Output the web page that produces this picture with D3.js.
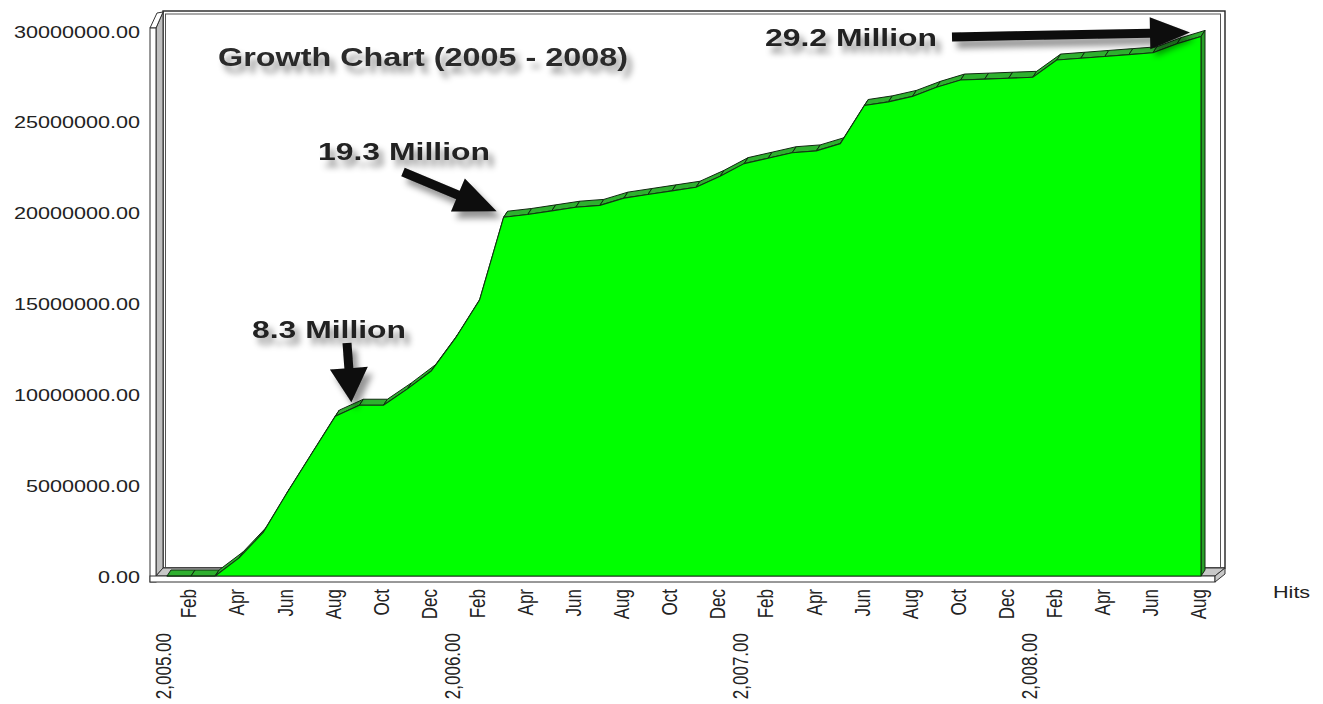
<!DOCTYPE html>
<html><head><meta charset="utf-8">
<script src="https://cdn.jsdelivr.net/npm/d3@7"></script>
<style>html,body{margin:0;padding:0;background:#fff;} svg{display:block;}</style>
</head><body>
<svg id="chart" width="1323" height="704"></svg>
<script>
// ---------------- DATA ----------------
const months = [
  "2005-01","2005-02","2005-03","2005-04","2005-05","2005-06","2005-07","2005-08","2005-09","2005-10","2005-11","2005-12",
  "2006-01","2006-02","2006-03","2006-04","2006-05","2006-06","2006-07","2006-08","2006-09","2006-10","2006-11","2006-12",
  "2007-01","2007-02","2007-03","2007-04","2007-05","2007-06","2007-07","2007-08","2007-09","2007-10","2007-11","2007-12",
  "2008-01","2008-02","2008-03","2008-04","2008-05","2008-06","2008-07","2008-08"
];
const hits = [
  0, 0, 0, 1000000, 2400000, 4600000, 6700000, 8800000, 9400000, 9400000, 10300000, 11300000,
  13100000, 15200000, 19750000, 19900000, 20100000, 20300000, 20400000, 20800000, 21000000, 21200000, 21400000, 22000000,
  22700000, 23000000, 23300000, 23400000, 23800000, 25900000, 26100000, 26400000, 26900000, 27300000, 27350000, 27400000,
  27450000, 28400000, 28500000, 28600000, 28700000, 28800000, 29300000, 29700000
];
const yTicks = [0, 5000000, 10000000, 15000000, 20000000, 25000000, 30000000];
const monthTickKeys = ["2005-02","2005-04","2005-06","2005-08","2005-10","2005-12",
  "2006-02","2006-04","2006-06","2006-08","2006-10","2006-12",
  "2007-02","2007-04","2007-06","2007-08","2007-10","2007-12",
  "2008-02","2008-04","2008-06","2008-08"];
const monthTickLabels = ["Feb","Apr","Jun","Aug","Oct","Dec","Feb","Apr","Jun","Aug","Oct","Dec",
  "Feb","Apr","Jun","Aug","Oct","Dec","Feb","Apr","Jun","Aug"];
const yearTickKeys = ["2005-01","2006-01","2007-01","2008-01"];
const yearTickLabels = ["2,005.00","2,006.00","2,007.00","2,008.00"];
const titleText = "Growth Chart (2005 - 2008)";
const axisTitle = "Hits";
const annotations = [
  {text:"8.3 Million",  month:"2005-08", tx:252, ty:338, tlen:154, tail:[347,343], tip:[16,-14], shaft:9, headL:34, headW:38},
  {text:"19.3 Million", month:"2006-03", tx:318, ty:160, tlen:172, tail:[403,172], tip:[-7,-6],  shaft:9, headL:42, headW:36},
  {text:"29.2 Million", month:"2008-08", tx:765, ty:46,  tlen:172, tail:[952,37],  tip:[-11,-4], shaft:9, headL:40, headW:32}
];

// ---------------- CHART ----------------
const svg = d3.select("#chart");
const FONT = "'Liberation Sans', Arial, Helvetica, sans-serif";
const SX = 1.27; // horizontal stretch of the original picture's text

const x = d3.scalePoint().domain(months).range([167, 1201]);
const y = d3.scaleLinear().domain([0, 30000000]).range([576, 31]);
const D = {dx:4, dy:-6}; // series depth

const defs = svg.append("defs");
const f = defs.append("filter").attr("id","shadow").attr("x","-30%").attr("y","-40%").attr("width","170%").attr("height","220%");
f.append("feDropShadow").attr("dx",5).attr("dy",7).attr("stdDeviation",3.2)
  .attr("flood-color","#000").attr("flood-opacity",0.42);

// back wall
svg.append("rect").attr("x",163).attr("y",11).attr("width",1062).attr("height",557)
  .attr("fill","#fff").attr("stroke","#222").attr("stroke-width",1.4);
svg.append("rect").attr("x",165.5).attr("y",14).attr("width",1055).attr("height",554)
  .attr("fill","none").attr("stroke","#555").attr("stroke-width",1);

// left wall
const wall = svg.append("g").attr("stroke","#333").attr("stroke-width",1);
wall.append("polygon").attr("points","156,28 163,12 163,568 156,576").attr("fill","#c0c0c0");
wall.append("polygon").attr("points","150,28 157,13 163,12 156,28").attr("fill","#fff");
wall.append("rect").attr("x",150).attr("y",28).attr("width",6).attr("height",554).attr("fill","#fff");

// floor
const floor = svg.append("g").attr("stroke","#333").attr("stroke-width",1);
floor.append("polygon").attr("points","156,576 163,568 1225,568 1215,576").attr("fill","#c8c8c8");
floor.append("rect").attr("x",150).attr("y",576).attr("width",1065).attr("height",6).attr("fill","#fff");
floor.append("polygon").attr("points","1215,576 1225,568 1225,574 1215,582").attr("fill","#c8c8c8");

// area series
const pts = months.map((m,i) => [x(m), y(hits[i])]);
const area = svg.append("g");
for (let i = 0; i < pts.length - 1; i++) {
  const a = pts[i], b = pts[i+1];
  area.append("polygon")
    .attr("points", [a, b, [b[0]+D.dx, b[1]+D.dy], [a[0]+D.dx, a[1]+D.dy]].map(p => p.join(",")).join(" "))
    .attr("fill","#2eb02e").attr("stroke","#102810").attr("stroke-width",1).attr("stroke-linejoin","round");
}
const last = pts[pts.length-1];
area.append("polygon")
  .attr("points", [last, [last[0]+D.dx, last[1]+D.dy], [last[0]+D.dx, y(0)+D.dy], [last[0], y(0)]].map(p=>p.join(",")).join(" "))
  .attr("fill","#28a028").attr("stroke","#102810").attr("stroke-width",1);
const areaGen = d3.area().x((d,i)=>x(months[i])).y0(y(0)).y1(d=>y(d));
area.append("path").datum(hits).attr("d", areaGen)
  .attr("fill","#00ff00").attr("stroke","#123812").attr("stroke-width",1.1).attr("stroke-linejoin","round");

// y axis
const yAxis = svg.append("g").attr("transform",`translate(140,0) scale(${SX},1)`)
  .call(d3.axisLeft(y).tickValues(yTicks).tickFormat(d3.format(".2f")).tickSize(0).tickPadding(0));
yAxis.select(".domain").remove();
yAxis.selectAll("text").attr("font-family",FONT).attr("font-size",17).attr("fill","#222").attr("dy","0.36em");

// x axis months
const mAxis = svg.append("g").attr("transform","translate(-3,589)")
  .call(d3.axisBottom(x).tickValues(monthTickKeys).tickFormat((d,i)=>monthTickLabels[i]).tickSize(0));
mAxis.select(".domain").remove();
mAxis.selectAll("text").attr("font-family",FONT).attr("font-size",17).attr("fill","#222")
  .attr("x",0).attr("y",0).attr("dy","0.36em").attr("transform",`scale(${SX},1) rotate(-90)`).style("text-anchor","end");

// x axis years
const yrAxis = svg.append("g").attr("transform","translate(-4,633)")
  .call(d3.axisBottom(x).tickValues(yearTickKeys).tickFormat((d,i)=>yearTickLabels[i]).tickSize(0));
yrAxis.select(".domain").remove();
yrAxis.selectAll("text").attr("font-family",FONT).attr("font-size",17).attr("fill","#222")
  .attr("x",0).attr("y",0).attr("dy","0.36em").attr("transform",`scale(${SX},1) rotate(-90)`).style("text-anchor","end");

// axis title
svg.append("text").attr("transform",`translate(1273,598) scale(${SX},1)`)
  .attr("font-family",FONT).attr("font-size",17).attr("fill","#222").text(axisTitle);

// chart title
svg.append("text").attr("x",218).attr("y",66).attr("textLength",410).attr("lengthAdjust","spacingAndGlyphs")
  .attr("font-family",FONT).attr("font-size",25).attr("font-weight","bold").attr("fill","#2a2a2a")
  .attr("filter","url(#shadow)").text(titleText);

// annotations
function arrowPoints(x0,y0,x1,y1,sw,hl,hw){
  const dx=x1-x0, dy=y1-y0, L=Math.hypot(dx,dy), ux=dx/L, uy=dy/L, px=-uy, py=ux;
  const bx=x1-ux*hl, by=y1-uy*hl;
  return [[x0+px*sw/2,y0+py*sw/2],[bx+px*sw/2,by+py*sw/2],[bx+px*hw/2,by+py*hw/2],[x1,y1],
          [bx-px*hw/2,by-py*hw/2],[bx-px*sw/2,by-py*sw/2],[x0-px*sw/2,y0-py*sw/2]];
}
annotations.forEach(a => {
  const i = months.indexOf(a.month);
  const tipX = x(a.month) + a.tip[0], tipY = y(hits[i]) + a.tip[1];
  svg.append("polygon")
    .attr("points", arrowPoints(a.tail[0],a.tail[1],tipX,tipY,a.shaft,a.headL,a.headW).map(p=>p.join(",")).join(" "))
    .attr("fill","#0a0a0a").attr("filter","url(#shadow)");
  svg.append("text").attr("x",a.tx).attr("y",a.ty).attr("textLength",a.tlen).attr("lengthAdjust","spacingAndGlyphs")
    .attr("font-family",FONT).attr("font-size",24).attr("font-weight","bold").attr("fill","#222")
    .attr("filter","url(#shadow)").text(a.text);
});
</script>
</body></html>
